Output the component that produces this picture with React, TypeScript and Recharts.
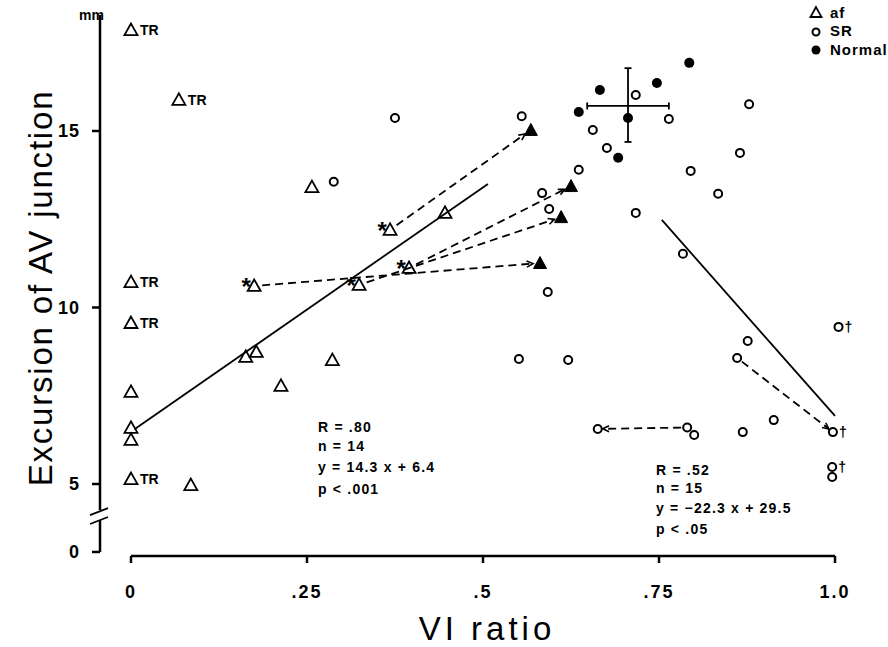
import React from 'react';
import { ScatterChart, Scatter, XAxis, YAxis, ReferenceLine } from 'recharts';

const FONT = '"Liberation Sans", Arial, Helvetica, sans-serif';

// ---- axes ----
const xTicks = [0, 0.25, 0.5, 0.75, 1.0];
const xTickLabels = ['0', '.25', '.5', '.75', '1.0'];
const yZeroPos = 3.074; // broken axis: "0" drawn just below the break
const yTicks = [yZeroPos, 5, 10, 15];
const yTickLabels = ['0', '5', '10', '15'];
const xDomain = [-0.044, 1.0355];
const yDomain = [2.96, 18.286];
const yBreakTop = 4.26;
const yBreakBottom = 3.98;

// ---- data: atrial fibrillation (open triangles) ----
const afPoints = [
  { x: 0, y: 17.86, note: 'TR' },
  { x: 0.068, y: 15.88, note: 'TR' },
  { x: 0, y: 10.72, note: 'TR' },
  { x: 0, y: 9.56, note: 'TR' },
  { x: 0, y: 7.61, note: '' },
  { x: 0, y: 6.59, note: '' },
  { x: 0, y: 6.25, note: '' },
  { x: 0, y: 5.14, note: 'TR' },
  { x: 0.085, y: 4.97, note: '' },
  { x: 0.163, y: 8.6, note: '' },
  { x: 0.178, y: 8.74, note: '' },
  { x: 0.213, y: 7.78, note: '' },
  { x: 0.286, y: 8.51, note: '' },
  { x: 0.257, y: 13.41, note: '' },
  { x: 0.446, y: 12.68, note: '' },
  { x: 0.175, y: 10.61, note: '*' },
  { x: 0.324, y: 10.64, note: '*' },
  { x: 0.368, y: 12.2, note: '*' },
  { x: 0.395, y: 11.12, note: '*' },
];

// follow-up values after conversion (filled triangles)
const afFollowUp = [
  { x: 0.568, y: 15.03 },
  { x: 0.625, y: 13.44 },
  { x: 0.611, y: 12.56 },
  { x: 0.581, y: 11.26 },
];

const afArrows = [
  { from: { x: 0.368, y: 12.2 }, to: { x: 0.568, y: 15.03 } },
  { from: { x: 0.175, y: 10.61 }, to: { x: 0.581, y: 11.26 } },
  { from: { x: 0.324, y: 10.64 }, to: { x: 0.611, y: 12.56 } },
  { from: { x: 0.395, y: 11.12 }, to: { x: 0.625, y: 13.44 } },
];

// ---- data: sinus rhythm (open circles) ----
const srPoints = [
  { x: 0.375, y: 15.37, note: '' },
  { x: 0.288, y: 13.56, note: '' },
  { x: 0.555, y: 15.42, note: '' },
  { x: 0.656, y: 15.03, note: '' },
  { x: 0.676, y: 14.52, note: '' },
  { x: 0.636, y: 13.9, note: '' },
  { x: 0.584, y: 13.24, note: '' },
  { x: 0.594, y: 12.79, note: '' },
  { x: 0.592, y: 10.44, note: '' },
  { x: 0.717, y: 16.02, note: '' },
  { x: 0.764, y: 15.34, note: '' },
  { x: 0.878, y: 15.76, note: '' },
  { x: 0.865, y: 14.38, note: '' },
  { x: 0.795, y: 13.87, note: '' },
  { x: 0.834, y: 13.22, note: '' },
  { x: 0.717, y: 12.68, note: '' },
  { x: 0.784, y: 11.52, note: '' },
  { x: 0.551, y: 8.54, note: '' },
  { x: 0.621, y: 8.51, note: '' },
  { x: 0.876, y: 9.05, note: '' },
  { x: 0.861, y: 8.57, note: '' },
  { x: 1.005, y: 9.45, note: '†' },
  { x: 0.913, y: 6.81, note: '' },
  { x: 0.869, y: 6.47, note: '' },
  { x: 0.997, y: 6.47, note: '†' },
  { x: 0.663, y: 6.56, note: '' },
  { x: 0.79, y: 6.6, note: '' },
  { x: 0.8, y: 6.39, note: '' },
  { x: 0.996, y: 5.48, note: '†' },
  { x: 0.996, y: 5.2, note: '' },
];

const srArrows = [
  { from: { x: 0.861, y: 8.57 }, to: { x: 0.997, y: 6.47 } },
  { from: { x: 0.79, y: 6.6 }, to: { x: 0.663, y: 6.56 } },
];

// ---- data: normal subjects (filled circles) ----
const normalPoints = [
  { x: 0.793, y: 16.93 },
  { x: 0.747, y: 16.36 },
  { x: 0.666, y: 16.16 },
  { x: 0.636, y: 15.54 },
  { x: 0.706, y: 15.37 },
  { x: 0.692, y: 14.24 },
];
const normalMean = { x: 0.706, y: 15.71, xLow: 0.648, xHigh: 0.764, yLow: 14.69, yHigh: 16.78 };

// ---- regression lines ----
const afFit = [{ x: 0.005, y: 6.55 }, { x: 0.507, y: 13.5 }];
const srFit = [{ x: 0.754, y: 12.48 }, { x: 1.0, y: 6.93 }];

const afStats = ['R = .80', 'n = 14', 'y = 14.3 x + 6.4', 'p < .001'];
const srStats = ['R = .52', 'n = 15', 'y = −22.3 x + 29.5', 'p < .05'];

const legendItems = ['af', 'SR', 'Normal'];

// ---------------- shapes ----------------
const OpenTri = (props: any) => {
  const { cx, cy, payload } = props;
  if (cx == null || cy == null) return <g />;
  return (
    <g>
      <polygon
        points={`${cx},${cy - 6.5} ${cx - 6.5},${cy + 5} ${cx + 6.5},${cy + 5}`}
        fill="none"
        stroke="#000"
        strokeWidth={1.8}
      />
      {payload.note === 'TR' && (
        <text x={cx + 9} y={cy + 5} fontSize={14} fontWeight="bold" fontFamily={FONT} fill="#000">
          TR
        </text>
      )}
      {payload.note === '*' && (
        <text x={cx - 8} y={cy + 9} fontSize={24} fontWeight="bold" fontFamily={FONT} textAnchor="middle" fill="#000">
          *
        </text>
      )}
    </g>
  );
};

const FilledTri = (props: any) => {
  const { cx, cy } = props;
  if (cx == null || cy == null) return <g />;
  return <polygon points={`${cx},${cy - 6.5} ${cx - 6.5},${cy + 5.5} ${cx + 6.5},${cy + 5.5}`} fill="#000" stroke="#000" strokeWidth={1} />;
};

const OpenCircle = (props: any) => {
  const { cx, cy, payload } = props;
  if (cx == null || cy == null) return <g />;
  return (
    <g>
      <circle cx={cx} cy={cy} r={4} fill="none" stroke="#000" strokeWidth={2} />
      {payload.note === '†' && (
        <text x={cx + 6} y={cy + 5} fontSize={14} fontWeight="bold" fontFamily={FONT} fill="#000">
          †
        </text>
      )}
    </g>
  );
};

const FilledCircle = (props: any) => {
  const { cx, cy } = props;
  if (cx == null || cy == null) return <g />;
  return <circle cx={cx} cy={cy} r={5} fill="#000" />;
};

const arrowShape = (startGap: number, endGap: number) => (p: any) => {
  const { x1, y1, x2, y2 } = p;
  const dx = x2 - x1;
  const dy = y2 - y1;
  const len = Math.hypot(dx, dy) || 1;
  const ux = dx / len;
  const uy = dy / len;
  const sx = x1 + ux * startGap;
  const sy = y1 + uy * startGap;
  const ex = x2 - ux * endGap;
  const ey = y2 - uy * endGap;
  const a = 0.45;
  const L = 7;
  const bx = -ux;
  const by = -uy;
  const h1x = ex + L * (bx * Math.cos(a) - by * Math.sin(a));
  const h1y = ey + L * (bx * Math.sin(a) + by * Math.cos(a));
  const h2x = ex + L * (bx * Math.cos(-a) - by * Math.sin(-a));
  const h2y = ey + L * (bx * Math.sin(-a) + by * Math.cos(-a));
  return (
    <g>
      <line x1={sx} y1={sy} x2={ex} y2={ey} stroke="#000" strokeWidth={1.8} strokeDasharray="8 5" />
      <path d={`M${h1x},${h1y} L${ex},${ey} L${h2x},${h2y}`} fill="none" stroke="#000" strokeWidth={1.6} />
    </g>
  );
};

const solidShape = (w: number) => (p: any) => (
  <line x1={p.x1} y1={p.y1} x2={p.x2} y2={p.y2} stroke="#000" strokeWidth={w} />
);

const capShape = (p: any) => {
  const { x1, y1, x2, y2 } = p;
  const horiz = Math.abs(y2 - y1) < Math.abs(x2 - x1);
  const c = 3.5;
  return (
    <g stroke="#000" strokeWidth={1.8}>
      <line x1={x1} y1={y1} x2={x2} y2={y2} />
      {horiz ? (
        <>
          <line x1={x1} y1={y1 - c} x2={x1} y2={y1 + c} />
          <line x1={x2} y1={y2 - c} x2={x2} y2={y2 + c} />
        </>
      ) : (
        <>
          <line x1={x1 - c} y1={y1} x2={x1 + c} y2={y1} />
          <line x1={x2 - c} y1={y2} x2={x2 + c} y2={y2} />
        </>
      )}
    </g>
  );
};

const breakShape = (p: any) => {
  const { x1, y1, y2 } = p;
  const top = Math.min(y1, y2);
  const bot = Math.max(y1, y2);
  return (
    <g stroke="#000" strokeWidth={1.8}>
      <line x1={x1 - 10} y1={top + 5} x2={x1 + 8} y2={top - 2} />
      <line x1={x1 - 10} y1={bot + 4} x2={x1 + 8} y2={bot - 3} />
    </g>
  );
};

const XTick = (props: any) => {
  const { x, y, payload } = props;
  const i = xTicks.indexOf(payload.value);
  return (
    <text x={x} y={y + 15} textAnchor="middle" fontSize={18} fontWeight="bold" fontFamily={FONT} letterSpacing={2} fill="#000">
      {i >= 0 ? xTickLabels[i] : ''}
    </text>
  );
};

const YTick = (props: any) => {
  const { x, y, payload } = props;
  const i = yTicks.indexOf(payload.value);
  return (
    <text x={x} y={y + 6.5} textAnchor="end" fontSize={18} fontWeight="bold" fontFamily={FONT} letterSpacing={1} fill="#000">
      {i >= 0 ? yTickLabels[i] : ''}
    </text>
  );
};

const statLine = (s: string, left: number, cy: number) => (
  <div
    key={s}
    style={{
      position: 'absolute',
      left,
      top: cy - 7,
      fontSize: 14,
      lineHeight: '14px',
      fontWeight: 'bold',
      letterSpacing: 1.2,
      whiteSpace: 'nowrap',
    }}
  >
    {s}
  </div>
);

const afStatsY = [427, 446, 467, 489];
const srStatsY = [470, 488, 508, 529];

export default function App() {
  return (
    <div style={{ position: 'absolute', left: 0, top: 0, width: 888, height: 647, background: '#fff', fontFamily: FONT, color: '#000', overflow: 'hidden' }}>
      <ScatterChart width={888} height={647} margin={{ top: 15, right: 28, bottom: 51, left: 40 }}>
        <XAxis
          type="number"
          dataKey="x"
          domain={xDomain}
          ticks={xTicks}
          interval={0}
          allowDataOverflow
          axisLine={false}
          tickLine={{ stroke: '#000', strokeWidth: 2.5 }}
          tickSize={7}
          tickMargin={20}
          height={40}
          tick={(p: any) => <XTick {...p} />}
        />
        <YAxis
          type="number"
          dataKey="y"
          domain={yDomain}
          ticks={yTicks}
          interval={0}
          allowDataOverflow
          axisLine={false}
          tickLine={{ stroke: '#000', strokeWidth: 2.5 }}
          tickSize={8}
          tickMargin={12}
          width={60}
          tick={(p: any) => <YTick {...p} />}
        />

        {/* axis lines */}
        <ReferenceLine ifOverflow="visible" segment={[{ x: 0, y: yDomain[0] }, { x: 1.0, y: yDomain[0] }]} shape={solidShape(2.5)} />
        <ReferenceLine ifOverflow="visible" segment={[{ x: xDomain[0], y: yDomain[1] }, { x: xDomain[0], y: yBreakTop }]} shape={solidShape(2.5)} />
        <ReferenceLine ifOverflow="visible" segment={[{ x: xDomain[0], y: yBreakBottom }, { x: xDomain[0], y: yZeroPos }]} shape={solidShape(2.5)} />
        <ReferenceLine ifOverflow="visible" segment={[{ x: xDomain[0], y: yBreakTop }, { x: xDomain[0], y: yBreakBottom }]} shape={breakShape} />

        {/* regression lines */}
        <ReferenceLine ifOverflow="visible" segment={afFit} shape={solidShape(1.8)} />
        <ReferenceLine ifOverflow="visible" segment={srFit} shape={solidShape(1.8)} />

        {/* arrows */}
        {afArrows.map((a, i) => (
          <ReferenceLine key={'afa' + i} ifOverflow="visible" segment={[a.from, a.to]} shape={arrowShape(8, 7)} />
        ))}
        {srArrows.map((a, i) => (
          <ReferenceLine key={'sra' + i} ifOverflow="visible" segment={[a.from, a.to]} shape={arrowShape(6, 5)} />
        ))}

        {/* mean +/- range of normals */}
        <ReferenceLine ifOverflow="visible" segment={[{ x: normalMean.xLow, y: normalMean.y }, { x: normalMean.xHigh, y: normalMean.y }]} shape={capShape} />
        <ReferenceLine ifOverflow="visible" segment={[{ x: normalMean.x, y: normalMean.yHigh }, { x: normalMean.x, y: normalMean.yLow }]} shape={capShape} />

        <Scatter name="af" data={afPoints} shape={OpenTri} isAnimationActive={false} />
        <Scatter name="af after" data={afFollowUp} shape={FilledTri} isAnimationActive={false} />
        <Scatter name="SR" data={srPoints} shape={OpenCircle} isAnimationActive={false} />
        <Scatter name="Normal" data={normalPoints} shape={FilledCircle} isAnimationActive={false} />
      </ScatterChart>

      {/* mm unit */}
      <div style={{ position: 'absolute', left: 79, top: 8, fontSize: 14, lineHeight: '14px', fontWeight: 'bold' }}>mm</div>

      {/* y axis title */}
      <div
        style={{
          position: 'absolute',
          left: 40,
          top: 288,
          transform: 'translate(-50%, -50%) rotate(-90deg)',
          fontSize: 33,
          lineHeight: '33px',
          letterSpacing: 1.8,
          whiteSpace: 'nowrap',
        }}
      >
        Excursion of AV junction
      </div>

      {/* x axis title */}
      <div
        style={{
          position: 'absolute',
          left: 337,
          width: 300,
          top: 612,
          textAlign: 'center',
          fontSize: 33,
          lineHeight: '33px',
          letterSpacing: 4,
          whiteSpace: 'nowrap',
        }}
      >
        VI ratio
      </div>

      {/* legend */}
      <div style={{ position: 'absolute', left: 808, top: 3 }}>
        {legendItems.map((t, i) => (
          <div key={t} style={{ display: 'flex', alignItems: 'center', height: 18.5, fontSize: 15, fontWeight: 'bold', whiteSpace: 'nowrap' }}>
            <svg width={16} height={14} style={{ marginRight: 6 }}>
              {i === 0 && <polygon points="8,2 2.5,12 13.5,12" fill="none" stroke="#000" strokeWidth={1.8} />}
              {i === 1 && <circle cx={8} cy={8} r={3.5} fill="none" stroke="#000" strokeWidth={2} />}
              {i === 2 && <circle cx={8} cy={8} r={4.5} fill="#000" />}
            </svg>
            <span style={{ letterSpacing: 1 }}>{t}</span>
          </div>
        ))}
      </div>

      {afStats.map((s, i) => statLine(s, 318, afStatsY[i]))}
      {srStats.map((s, i) => statLine(s, 656, srStatsY[i]))}
    </div>
  );
}
